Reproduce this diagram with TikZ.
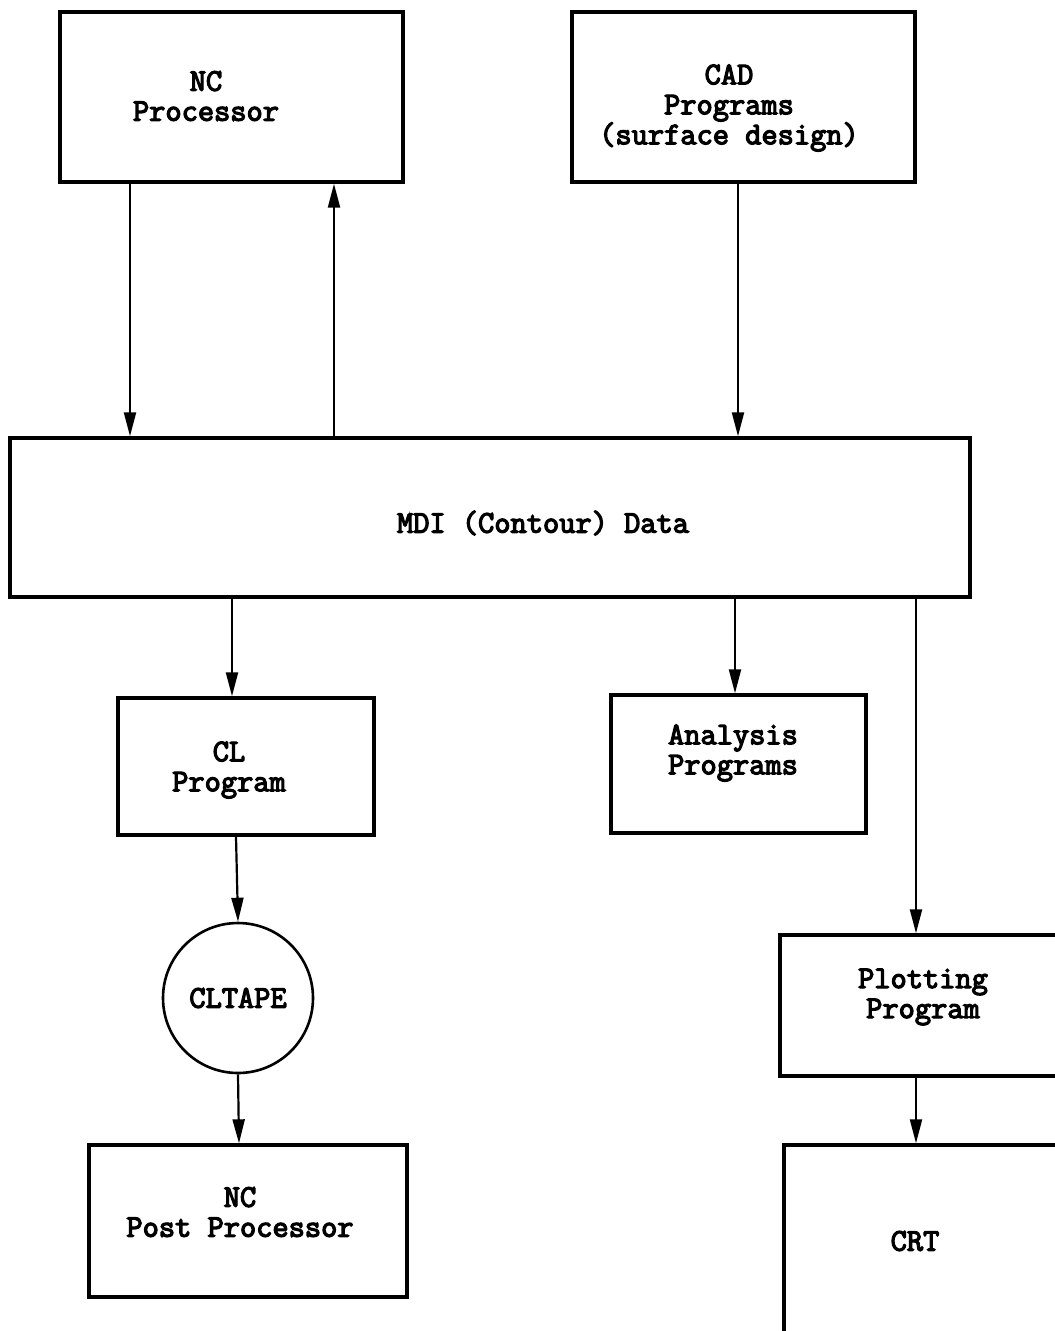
\documentclass[tikz,border=0pt]{standalone}
\usepackage{fontspec}
\newfontfamily\tw[FakeBold=4]{Latin Modern Mono}
\usetikzlibrary{arrows.meta}
\begin{document}
\begin{tikzpicture}[x=1pt,y=-1pt,
  box/.style={draw,line width=3.4pt,rectangle,inner sep=0pt},
  lbl/.style={align=center,inner sep=0pt,font=\tw\fontsize{31.5}{30}\selectfont},
  arr/.style={line width=2.2pt,-{Triangle[length=24pt,width=12pt]}}]
\useasboundingbox (0,0) rectangle (1055,1331);
\clip (0,0) rectangle (1055,1331);
% boxes
\node[box,minimum width=343pt,minimum height=170pt] (nc)   at (231.5,97) {};
\node[box,minimum width=343pt,minimum height=170pt] (cad)  at (743.5,97) {};
\node[box,minimum width=960pt,minimum height=159pt] (mdi)  at (490,517.5) {};
\node[box,minimum width=256pt,minimum height=137pt] (cl)   at (246,766.5) {};
\node[box,minimum width=255pt,minimum height=138pt] (ana)  at (738.5,764) {};
\node[draw,line width=2.6pt,circle,minimum size=150pt,inner sep=0pt] (tape) at (238,998) {};
\node[box,minimum width=318pt,minimum height=152pt] (post) at (248,1221) {};
\node[box,minimum width=310pt,minimum height=141pt] (plot) at (935,1005.5) {};
\node[box,minimum width=310pt,minimum height=230pt] (crt)  at (939,1260) {};
% labels
\node[lbl] at (206,96) {NC\\Processor};
\node[lbl] at (729,108) {CAD\\Programs\\(surface design)};
\node[lbl] at (543,523) {MDI (Contour) Data};
\node[lbl] at (229,770) {CL\\Program};
\node[lbl] at (733,753) {Analysis\\Programs};
\node[lbl] at (238,998) {CLTAPE};
\node[lbl] at (240,1212) {NC\\Post Processor};
\node[lbl] at (923,997) {Plotting\\Program};
\node[lbl] at (915,1241) {CRT};
% connectors
\draw[arr] (130,0 |- nc.south) -- (130,0 |- mdi.north);
\draw[arr] (334,0 |- mdi.north) -- (334,0 |- nc.south);
\draw[arr] (738,0 |- cad.south) -- (738,0 |- mdi.north);
\draw[arr] (232,0 |- mdi.south) -- (232,0 |- cl.north);
\draw[arr] (735,0 |- mdi.south) -- (735,0 |- ana.north);
\draw[arr] (916,0 |- mdi.south) -- (916,0 |- plot.north);
\draw[arr] (236,0 |- cl.south) -- (tape.north);
\draw[arr] (tape.south) -- (239,0 |- post.north);
\draw[arr] (916,0 |- plot.south) -- (916,0 |- crt.north);
\end{tikzpicture}
\end{document}
